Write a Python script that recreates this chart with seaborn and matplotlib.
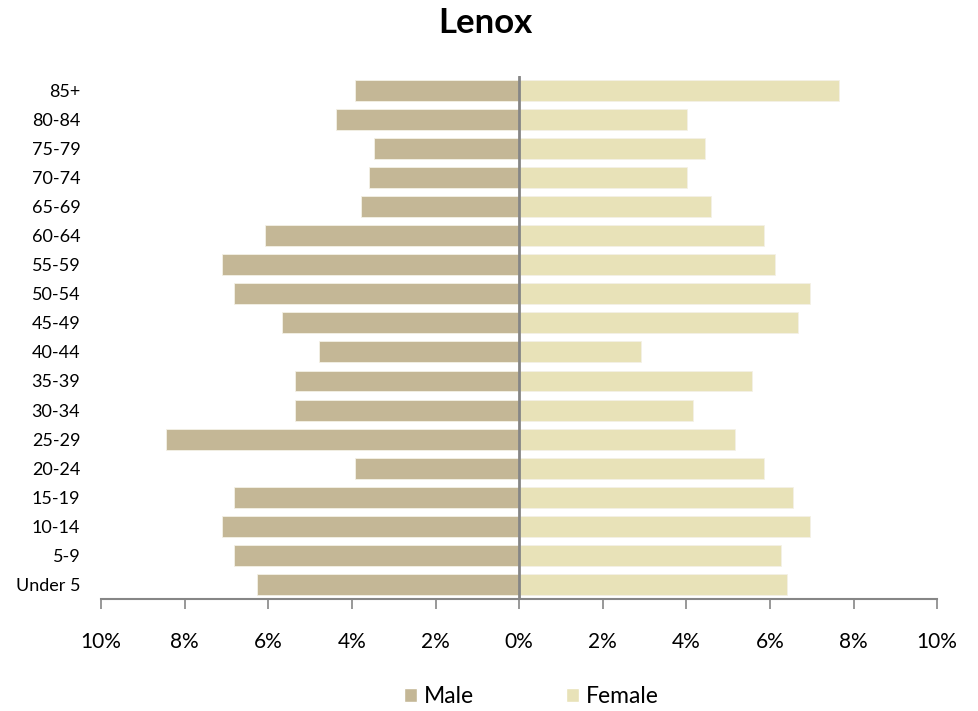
import matplotlib
matplotlib.use("Agg")
import matplotlib.pyplot as plt
import matplotlib.ticker as mticker
from matplotlib.patches import Patch
import seaborn as sns
import pandas as pd

age_groups = ["85+", "80-84", "75-79", "70-74", "65-69", "60-64", "55-59", "50-54",
              "45-49", "40-44", "35-39", "30-34", "25-29", "20-24", "15-19", "10-14",
              "5-9", "Under 5"]
male = [3.92, 4.37, 3.47, 3.60, 3.78, 6.09, 7.12, 6.82, 5.68, 4.78, 5.36, 5.36,
        8.44, 3.92, 6.82, 7.12, 6.82, 6.27]
female = [7.65, 4.02, 4.44, 4.02, 4.58, 5.86, 6.13, 6.95, 6.68, 2.92, 5.58, 4.16,
          5.16, 5.86, 6.54, 6.95, 6.26, 6.41]
x_ticks = [-10, -8, -6, -4, -2, 0, 2, 4, 6, 8, 10]

male_color = "#C4B796"
female_color = "#E8E2B8"

df = pd.DataFrame({
    "age": age_groups * 2,
    "value": [-v for v in male] + female,
    "sex": ["Male"] * len(male) + ["Female"] * len(female),
})

sns.set_theme(style="white")
plt.rcParams["font.family"] = ["Lato", "DejaVu Sans"]
plt.rcParams["text.color"] = "black"
plt.rcParams["xtick.color"] = "black"
plt.rcParams["ytick.color"] = "black"

fig = plt.figure(figsize=(9.79, 7.11), dpi=100)
ax = fig.add_axes([0.1033, 0.1575, 0.854, 0.736])

sns.barplot(data=df, x="value", y="age", hue="sex", order=age_groups,
            hue_order=["Male", "Female"], palette=[male_color, female_color],
            saturation=1, dodge=False, width=0.72, orient="h", ax=ax, legend=False,
            edgecolor="#F4F1E6", linewidth=0.6)

ax.set_xlim(-10, 10)
ax.set_ylim(len(age_groups) - 0.5, -0.5)
ax.set_xticks(x_ticks)
ax.xaxis.set_major_formatter(mticker.FuncFormatter(lambda v, p: f"{abs(v):.0f}%"))
ax.set_xlabel("")
ax.set_ylabel("")

for s in ["top", "right", "left"]:
    ax.spines[s].set_visible(False)
ax.spines["bottom"].set_color("#868686")
ax.spines["bottom"].set_linewidth(1.5)
ax.axvline(0, color="#868686", linewidth=2, zorder=5)

ax.tick_params(axis="x", which="major", direction="out", length=7, width=1.2,
               color="#868686", bottom=True, labelsize=15, pad=17, labelcolor="black")
ax.tick_params(axis="y", length=0, labelsize=13, pad=15, labelcolor="black")

fig.suptitle("Lenox", fontsize=25, fontweight="bold", x=0.496, y=0.99, color="black")

handles = [Patch(facecolor=male_color, label="Male"),
           Patch(facecolor=female_color, label="Female")]
fig.legend(handles=handles, loc="center", bbox_to_anchor=(0.543, 0.02), ncol=2,
           frameon=False, fontsize=16.5, handlelength=0.57, handleheight=0.57,
           handletextpad=0.3, columnspacing=4.0)

fig.savefig("out.png", dpi=100)
